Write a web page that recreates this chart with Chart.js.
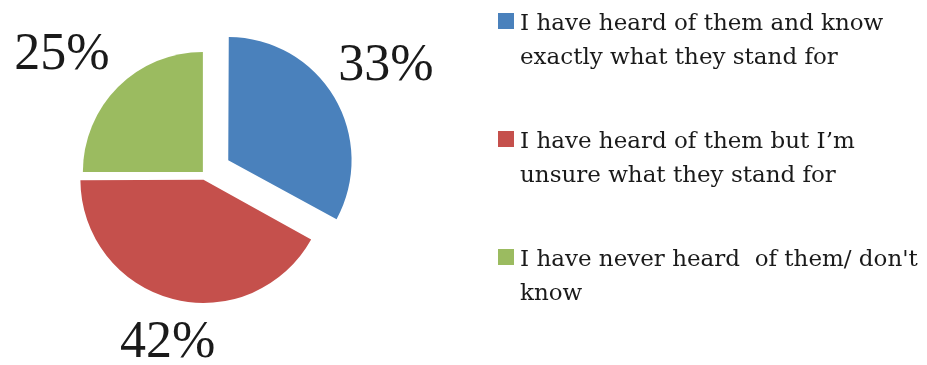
<!DOCTYPE html>
<html>
<head>
<meta charset="utf-8">
<script src="https://cdn.jsdelivr.net/npm/chart.js@4/dist/chart.umd.min.js"></script>
<style>
  html, body { margin: 0; padding: 0; background: #fff; }
  #wrap { position: relative; width: 927px; height: 365px; }
</style>
</head>
<body>
<div id="wrap"><canvas id="chart-0"></canvas></div>
<script>
// data
const categories = [
    ['I have heard of them and know', 'exactly what they stand for'],
    ['I have heard of them but I\u2019m', 'unsure what they stand for'],
    ['I have never heard  of them/ don\'t', 'know']
];
const shares = [33, 42, 25];
const sliceColors = ['#4a81bc', '#c5504c', '#9bbb60'];
// how far each slice is pulled out, in px (chart.js divides offset by 4 when drawing)
const pullOut = [27, 6, 3];
// small hand nudges for the percent labels, like excel places them
const labelNudge = [[-2, 0], [6, 0], [-17, 8]];

const labelFont = '52px "Liberation Serif", serif';
const legendFont = '23px "DejaVu Serif", serif';

// percent labels outside each slice
const pctLabels = {
    id: 'pctLabels',
    afterDatasetsDraw(chart) {
        const ctx = chart.ctx;
        const meta = chart.getDatasetMeta(0);
        const total = shares.reduce((a, b) => a + b, 0);
        ctx.save();
        ctx.font = labelFont;
        ctx.fillStyle = '#1a1a1a';
        ctx.textAlign = 'center';
        ctx.textBaseline = 'middle';
        meta.data.forEach((arc, i) => {
            const p = arc.getProps(['x', 'y', 'startAngle', 'endAngle', 'outerRadius'], true);
            const mid = (p.startAngle + p.endAngle) / 2;
            const dx = Math.cos(mid), dy = Math.sin(mid);
            const off = pullOut[i];
            const cx = p.x + dx * off, cy = p.y + dy * off;
            const txt = Math.round(shares[i] / total * 100) + '%';
            const w = ctx.measureText(txt).width / 2;
            const h = 18;
            const ext = Math.min(Math.abs(dx) > 0.01 ? w / Math.abs(dx) : 1e9,
                                 Math.abs(dy) > 0.01 ? h / Math.abs(dy) : 1e9);
            const d = p.outerRadius + 30 + ext;
            ctx.fillText(txt, cx + dx * d + labelNudge[i][0], cy + dy * d + labelNudge[i][1]);
        });
        ctx.restore();
    }
};

// legend on the right, wrapped in two lines per entry
const sideLegend = {
    id: 'sideLegend',
    afterDraw(chart) {
        const ctx = chart.ctx;
        const x0 = 498, top0 = 13, step = 118, box = 16, lineH = 34;
        ctx.save();
        ctx.font = legendFont;
        ctx.textBaseline = 'alphabetic';
        ctx.textAlign = 'left';
        categories.forEach((lines, i) => {
            const top = top0 + i * step;
            ctx.fillStyle = sliceColors[i];
            ctx.fillRect(x0, top, box, box);
            ctx.fillStyle = '#1a1a1a';
            lines.forEach((ln, j) => {
                ctx.fillText(ln, x0 + 22, top + 17 + j * lineH);
            });
        });
        ctx.restore();
    }
};

new Chart(document.getElementById('chart-0'), {
    type: 'pie',
    data: {
        labels: categories.map(l => l.join(' ')),
        datasets: [
            {
                data: shares,
                backgroundColor: sliceColors,
                borderWidth: 0,
                offset: pullOut.map(v => v * 4)
            }
        ]
    },
    options: {
        responsive: true,
        maintainAspectRatio: false,
        animation: false,
        radius: 120,
        layout: { padding: { left: 0, top: 0, right: 517, bottom: 17 } },
        plugins: {
            legend: { display: false },
            tooltip: { enabled: false }
        }
    },
    plugins: [pctLabels, sideLegend]
});
</script>
</body>
</html>
